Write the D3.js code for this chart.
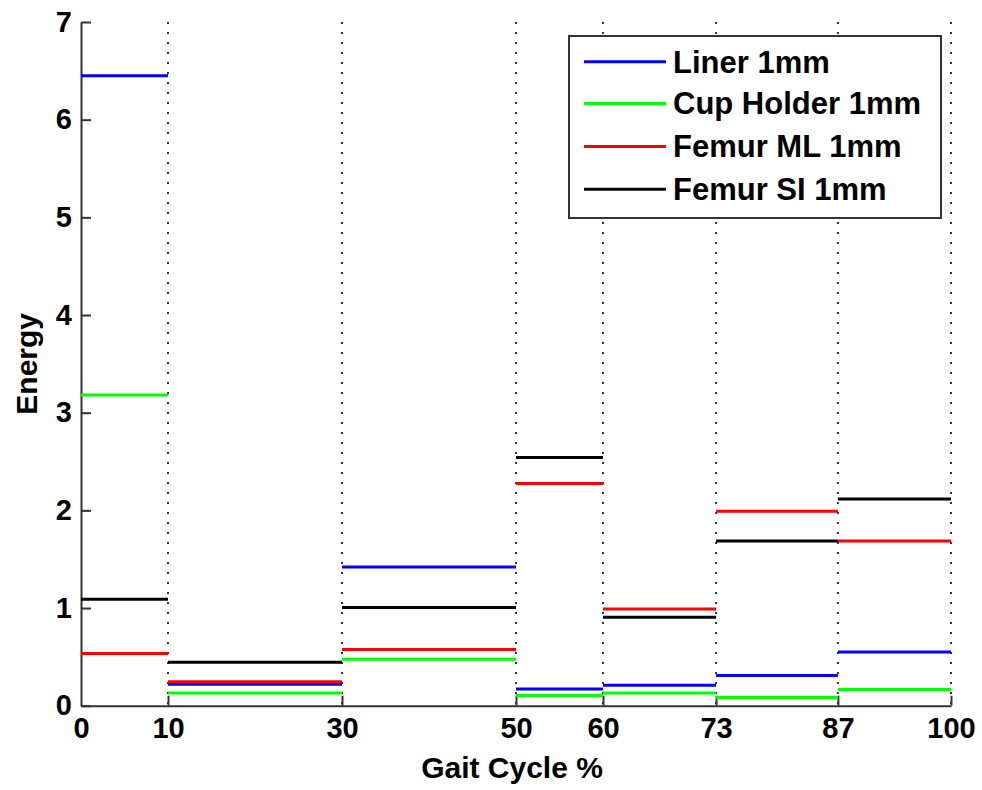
<!DOCTYPE html>
<html>
<head>
<meta charset="utf-8">
<script src="https://cdn.jsdelivr.net/npm/d3@7"></script>
<style>
  html, body { margin: 0; padding: 0; background: #fff; }
  svg { display: block; }
  text { font-family: "Liberation Sans", Arial, Helvetica, sans-serif; font-weight: bold; fill: #000; }
</style>
</head>
<body>
<svg id="chart" width="982" height="790"></svg>
<script>
// Gait-cycle phase boundaries (%)
const breaks = [0, 10, 30, 50, 60, 73, 87, 100];
// Energy per phase for each series
const liner     = [6.45, 0.22, 1.42, 0.17, 0.21, 0.31, 0.55];
const cupHolder = [3.18, 0.13, 0.475, 0.105, 0.13, 0.085, 0.165];
const femurML   = [0.535, 0.245, 0.575, 2.275, 0.99, 1.99, 1.685];
const femurSI   = [1.09, 0.445, 1.005, 2.54, 0.905, 1.685, 2.115];
const seriesNames = ["Liner 1mm", "Cup Holder 1mm", "Femur ML 1mm", "Femur SI 1mm"];
const seriesColors = ["#0000ff", "#00ff00", "#ff0000", "#000000"];
const xTicks = [0, 10, 30, 50, 60, 73, 87, 100];
const yTicks = [0, 1, 2, 3, 4, 5, 6, 7];
const xLabel = "Gait Cycle %";
const yLabel = "Energy";

const seriesValues = [liner, cupHolder, femurML, femurSI];

const svg = d3.select("#chart");
const x = d3.scaleLinear().domain([0, 100]).range([81, 951]);
const y = d3.scaleLinear().domain([0, 7]).range([705.7, 22]);

// vertical dotted grid lines
svg.append("g").selectAll("line")
  .data(xTicks.filter(d => d > 0))
  .join("line")
  .attr("x1", d => x(d)).attr("x2", d => x(d))
  .attr("y1", y(7)).attr("y2", y(0))
  .attr("stroke", "#333")
  .attr("stroke-width", 2)
  .attr("stroke-dasharray", "2 8");

// axes
const xAxis = d3.axisBottom(x).tickValues(xTicks).tickFormat(d3.format("d"))
  .tickSizeInner(-10).tickSizeOuter(0).tickPadding(12);
const gx = svg.append("g").attr("transform", `translate(0,${y(0)})`).call(xAxis);
const yAxis = d3.axisLeft(y).tickValues(yTicks).tickFormat(d3.format("d"))
  .tickSizeInner(-10).tickSizeOuter(0).tickPadding(9);
const gy = svg.append("g").attr("transform", `translate(${x(0)},0)`).call(yAxis);
[gx, gy].forEach(g => {
  g.select(".domain").attr("stroke", "#333").attr("stroke-width", 2);
  g.selectAll(".tick line").attr("stroke", "#333").attr("stroke-width", 2);
  g.selectAll(".tick text").attr("font-size", 29).attr("font-family", "Liberation Sans, Arial, sans-serif").attr("font-weight", "bold").attr("fill", "#000");
});
gx.selectAll(".tick").filter(d => d === 0).select("line").remove();

// series segments
seriesValues.forEach((vals, si) => {
  const segs = vals.map((v, i) => ({ x0: breaks[i], x1: breaks[i + 1], v }));
  svg.append("g").selectAll("line")
    .data(segs)
    .join("line")
    .attr("x1", d => x(d.x0)).attr("x2", d => x(d.x1))
    .attr("y1", d => y(d.v)).attr("y2", d => y(d.v))
    .attr("stroke", seriesColors[si])
    .attr("stroke-width", 3);
});

// axis labels
svg.append("text")
  .attr("x", 512).attr("y", 778)
  .attr("text-anchor", "middle")
  .attr("font-size", 30)
  .text(xLabel);
svg.append("text")
  .attr("transform", `translate(37,${(y(0) + y(7)) / 2}) rotate(-90)`)
  .attr("text-anchor", "middle")
  .attr("font-size", 30)
  .text(yLabel);

// legend
const leg = svg.append("g");
leg.append("rect")
  .attr("x", 569).attr("y", 36).attr("width", 372).attr("height", 182)
  .attr("fill", "#fff").attr("stroke", "#333").attr("stroke-width", 2);
const rowY = [61.7, 103.5, 146.5, 189.3];
seriesNames.forEach((name, i) => {
  leg.append("line")
    .attr("x1", 584).attr("x2", 666)
    .attr("y1", rowY[i]).attr("y2", rowY[i])
    .attr("stroke", seriesColors[i]).attr("stroke-width", 3);
  leg.append("text")
    .attr("x", 673).attr("y", rowY[i]).attr("dy", "0.35em")
    .attr("font-size", 31)
    .text(name);
});
</script>
</body>
</html>
